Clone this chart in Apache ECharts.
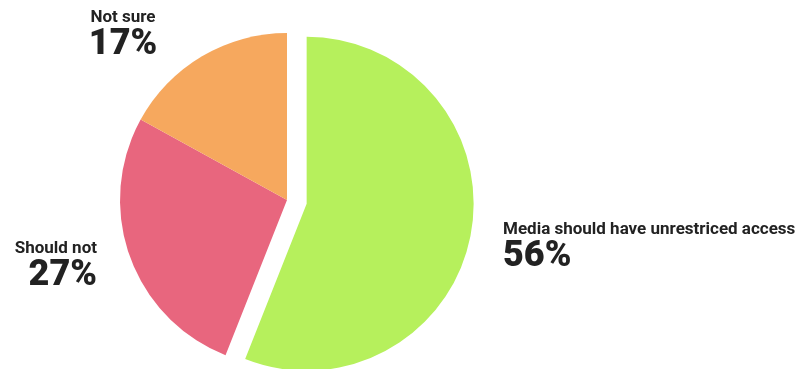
<!DOCTYPE html>
<html>
<head>
<meta charset="utf-8">
<script src="https://cdn.jsdelivr.net/npm/echarts@6/dist/echarts.min.js"></script>
<style>
  html, body { margin: 0; padding: 0; background: #ffffff; }
  #chart { width: 806px; height: 369px; }
</style>
</head>
<body>
<div id="chart"></div>
<script>
// Survey answers, in clockwise order from 12 o'clock
const categories = ['Media should have unrestriced access', 'Should not', 'Not sure'];
const shares = [56, 27, 17];
const colors = ['#b6f05c', '#e8667e', '#f6a85e'];

// Where each answer's caption sits: [x, y, align]
const labelSpots = [
  [503, 220, 'left'],
  [97, 239, 'right'],
  [123, 8, 'center']
];

const pieData = categories.map((name, i) => ({
  name: name,
  value: shares[i],
  selected: i === 0,
  itemStyle: { color: colors[i] }
}));

const chart = echarts.init(document.getElementById('chart'), null, { renderer: 'canvas' });

chart.setOption({
  backgroundColor: '#ffffff',
  animation: false,
  series: [
    {
      // the slices, with the first answer pulled out
      type: 'pie',
      center: [287, 200],
      radius: [0, 167],
      startAngle: 90,
      clockwise: true,
      selectedMode: 'single',
      selectedOffset: 20,
      silent: true,
      data: pieData,
      label: { show: false },
      labelLine: { show: false }
    },
    {
      // captions for each answer
      type: 'pie',
      center: [287, 200],
      radius: [0, 167],
      startAngle: 90,
      clockwise: true,
      silent: true,
      z: 3,
      itemStyle: { color: 'rgba(0,0,0,0)', borderWidth: 0 },
      data: categories.map((name, i) => ({ name: name, value: shares[i] })),
      label: {
        show: true,
        position: 'outside',
        overflow: 'none',
        opacity: 1,
        formatter: p => '{n|' + p.name + '}\n{v|' + p.value + '%}',
        rich: {
          n: { fontFamily: 'Roboto', fontSize: 17, fontWeight: 'bold', color: '#222222', lineHeight: 20 },
          v: { fontFamily: 'Roboto', fontSize: 36, fontWeight: 900, color: '#222222', lineHeight: 34 }
        }
      },
      labelLine: { show: false },
      labelLayout: function (params) {
        const s = labelSpots[params.dataIndex];
        return { x: s[0], y: s[1], align: s[2], verticalAlign: 'top', hideOverlap: false };
      }
    }
  ]
});
</script>
</body>
</html>
